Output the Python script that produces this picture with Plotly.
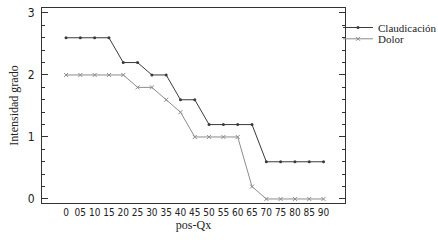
import plotly.graph_objects as go

categories = ["0", "05", "10", "15", "20", "25", "30", "35", "40", "45",
              "50", "55", "60", "65", "70", "75", "80", "85", "90"]
claudicacion = [2.6, 2.6, 2.6, 2.6, 2.2, 2.2, 2.0, 2.0, 1.6, 1.6,
                1.2, 1.2, 1.2, 1.2, 0.6, 0.6, 0.6, 0.6, 0.6]
dolor = [2.0, 2.0, 2.0, 2.0, 2.0, 1.8, 1.8, 1.6, 1.4, 1.0,
         1.0, 1.0, 1.0, 0.2, 0.0, 0.0, 0.0, 0.0, 0.0]
y_ticks = [0, 1, 2, 3]

x_idx = list(range(len(categories)))

fig = go.Figure()
fig.add_trace(go.Scatter(
    x=x_idx, y=claudicacion, name="Claudicación", mode="lines+markers",
    line=dict(color="#3a3a3a", width=1),
    marker=dict(symbol="circle", size=3, color="#3a3a3a"),
    legend="legend",
))
fig.add_trace(go.Scatter(
    x=x_idx, y=dolor, name="Dolor", mode="lines+markers",
    line=dict(color="#8c8c8c", width=1),
    marker=dict(symbol="x-thin", size=4, color="#8c8c8c",
                line=dict(width=1, color="#8c8c8c")),
    legend="legend2",
))

serif = "Liberation Serif"
narrow = "DejaVu Sans Condensed"

leg_common = dict(xanchor="left", yanchor="middle",
                  font=dict(family=serif, size=11, color="#222"),
                  bgcolor="rgba(0,0,0,0)", itemwidth=30)

fig.update_layout(
    width=438, height=240,
    margin=dict(l=42, r=93, t=8, b=37, autoexpand=False),
    paper_bgcolor="white", plot_bgcolor="white",
    showlegend=True,
    legend=dict(x=0.977, y=0.9, **leg_common),
    legend2=dict(x=0.977, y=0.842, **leg_common),
    xaxis=dict(
        range=[-1.68, 19.5], tickmode="array", tickvals=x_idx, ticktext=categories,
        tickangle=0, showgrid=False, zeroline=False, showline=True,
        linecolor="#333", linewidth=1, mirror=True, ticks="",
        tickfont=dict(family=narrow, size=10, color="#222"),
        automargin=False,
        title=dict(text="pos-Qx", font=dict(family=serif, size=12, color="#222"), standoff=2),
    ),
    yaxis=dict(
        range=[-0.065, 3.08], tickmode="array", tickvals=y_ticks,
        showgrid=False, zeroline=False, showline=True, linecolor="#333", linewidth=1,
        mirror="ticks", ticks="inside", ticklen=6, tickcolor="#333",
        ticklabelstandoff=4, automargin=False,
        minor=dict(dtick=0.2, ticks="inside", ticklen=3, tickcolor="#333"),
        tickfont=dict(family=narrow, size=12, color="#222"),
        title=dict(text="Intensidad grado", font=dict(family=serif, size=12, color="#222"), standoff=6),
    ),
)

fig.write_html("out.html", config={"displayModeBar": False},
               post_script="document.body.style.margin='0';")
